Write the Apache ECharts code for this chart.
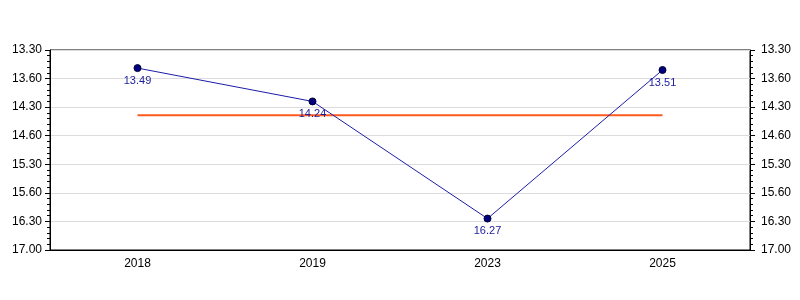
<!DOCTYPE html>
<html><head><meta charset="utf-8">
<script src="https://cdn.jsdelivr.net/npm/echarts@6/dist/echarts.min.js"></script>
<style>html,body{margin:0;padding:0;background:#fff}#c{width:800px;height:300px}</style>
</head><body><div id="c"></div>
<script>
const categories = ["2018", "2019", "2023", "2025"];
const timeLabels = ["13.49", "14.24", "16.27", "13.51"]; // mm.ss
const averageTime = 14.64; // minutes
const tickLabels = ["13.30", "13.60", "14.30", "14.60", "15.30", "15.60", "16.30", "17.00"];

function toMinutes(s){ const p = s.split('.'); return +p[0] + (+p[1])/60; }
const values = timeLabels.map(toMinutes);

const chart = echarts.init(document.getElementById('c'), null, {renderer:'canvas'});
const yAx = (pos, margin, split) => ({
  type:'value', position:pos, inverse:true, min:13.5, max:17, interval:0.5,
  axisLine:{show:true, lineStyle:{color:'#000', width:1}},
  axisTick:{show:true, length:5, lineStyle:{color:'#000'}},
  minorTick:{show:true, splitNumber:5, length:3, lineStyle:{color:'#000'}},
  splitLine:{show:split, lineStyle:{color:'#dcdcdc', width:1}},
  axisLabel:{margin:margin, color:'#000', fontSize:12, fontFamily:'Liberation Sans, Arial, sans-serif',
    formatter:(v, i) => tickLabels[i] !== undefined ? tickLabels[i] : ''}
});
chart.setOption({
  animation:false,
  grid:{left:50, right:50, top:50, bottom:50, show:true, borderColor:'#000', borderWidth:1, backgroundColor:'transparent'},
  xAxis:{type:'category', data:categories, boundaryGap:true,
    axisLine:{lineStyle:{color:'#000'}},
    axisTick:{alignWithLabel:true, length:5, lineStyle:{color:'#000'}},
    axisLabel:{color:'#000', fontSize:12, margin:8, fontFamily:'Liberation Sans, Arial, sans-serif'},
    splitLine:{show:false}},
  yAxis:[yAx('left', 8, true), yAx('right', 11, false)],
  series:[
    {type:'line', data:categories.map(() => averageTime), symbol:'none',
      lineStyle:{color:'#ff5a1f', width:2}, z:2, silent:true},
    {type:'line', data:values, symbol:'circle', symbolSize:7,
      itemStyle:{color:'#000080', borderColor:'#000033', borderWidth:1},
      lineStyle:{color:'#1c1ca8', width:1}, z:3,
      label:{show:true, position:'bottom', distance:3, color:'#1c1c9c', fontSize:11,
        fontFamily:'Liberation Sans, Arial, sans-serif',
        formatter:(p) => timeLabels[p.dataIndex]}}
  ]
});
</script></body></html>
